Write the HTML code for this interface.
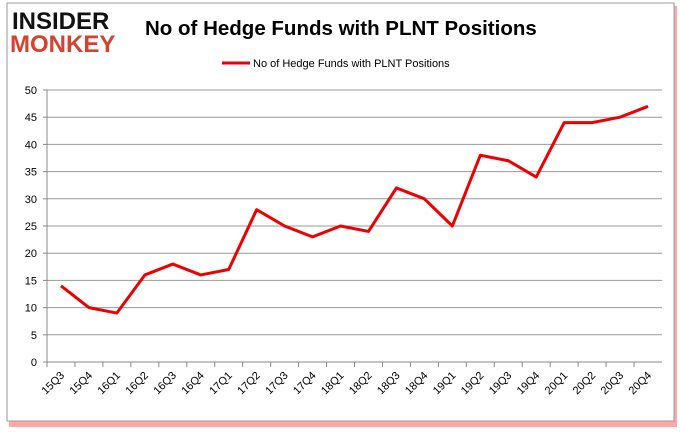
<!DOCTYPE html>
<html><head><meta charset="utf-8"><style>
body{margin:0;background:#fff;width:680px;height:433px;overflow:hidden;font-family:"Liberation Sans",sans-serif}
</style></head><body>
<svg width="680" height="433">
<rect x="9" y="6" width="668" height="421" fill="#f00" opacity="0.35"/>
<rect x="7" y="3" width="667" height="418" fill="#fff" stroke="#999"/>
<text x="12" y="29" font-family="Liberation Sans" font-weight="bold" font-size="24" fill="#111">INSIDER</text>
<text x="10" y="52" font-family="Liberation Sans" font-weight="bold" font-size="24" fill="#d94030">MONKEY</text>
<text x="145" y="35" font-family="Liberation Sans" font-weight="bold" font-size="20.5" fill="#000">No of Hedge Funds with PLNT Positions</text>
<line x1="222" y1="63" x2="250" y2="63" stroke="#e00" stroke-width="3"/>
<text x="253" y="67" font-size="11" fill="#000">No of Hedge Funds with PLNT Positions</text>
</svg>
<script>
const categories=["15Q3","15Q4","16Q1","16Q2","16Q3","16Q4","17Q1","17Q2","17Q3","17Q4","18Q1","18Q2","18Q3","18Q4","19Q1","19Q2","19Q3","19Q4","20Q1","20Q2","20Q3","20Q4"];
const values=[14,10,9,16,18,16,17,28,25,23,25,24,32,30,25,38,37,34,44,44,45,47];
const yTicks=[0,5,10,15,20,25,30,35,40,45,50];
const NS="http://www.w3.org/2000/svg";
const svg=document.querySelector('svg');
const x0=47,x1=662,yb=362,yt=90,step=(x1-x0)/categories.length;
const X=i=>x0+step*(i+0.5), Y=v=>yb-(v/50)*(yb-yt);
function mk(t,a){const e=document.createElementNS(NS,t);for(const k in a)e.setAttribute(k,a[k]);svg.appendChild(e);return e;}
yTicks.forEach(v=>{
 const l=mk('line',{x1:x0,x2:x1,y1:Y(v),y2:Y(v),stroke:v===0?'#888':'#999','stroke-width':1});
 
 
 const tk=mk('line',{x1:x0-4,x2:x0,y1:Y(v),y2:Y(v),stroke:'#888'});
 
 
 const t=mk('text',{x:x0-10,y:Y(v)+4,'text-anchor':'end','font-size':11,fill:'#000'});
 t.textContent=v;
 
 
});
const ax=mk('line',{x1:x0,x2:x0,y1:yt,y2:yb,stroke:'#888'});


categories.forEach((c,i)=>{
 const xt=x0+step*i;
 const tk=mk('line',{x1:xt,x2:xt,y1:yb,y2:yb+5,stroke:'#888'});
 
 
 const t=mk('text',{x:X(i)+4,y:yb+14,'text-anchor':'end','font-size':11,fill:'#000',transform:`rotate(-45 ${X(i)+4} ${yb+14})`});
 t.textContent=c;
 
 
});
const p=mk('polyline',{points:values.map((v,i)=>X(i)+','+Y(v)).join(' '),fill:'none',stroke:'#e00','stroke-width':3,'stroke-linejoin':'round'});


</script>
</body></html>
